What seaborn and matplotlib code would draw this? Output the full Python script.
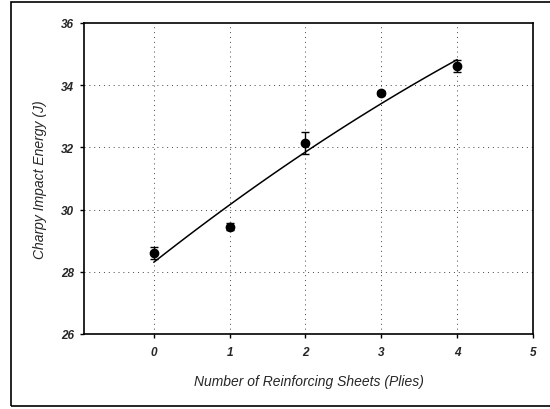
import matplotlib
matplotlib.use("Agg")
import matplotlib.pyplot as plt
import seaborn as sns
import pandas as pd
from matplotlib.patches import Rectangle

plies = [0, 1, 2, 3, 4]
energy = [28.61, 29.45, 32.13, 33.74, 34.61]
err = [0.2, 0.12, 0.35, 0.06, 0.2]
xticks = [0, 1, 2, 3, 4, 5]
yticks = [26, 28, 30, 32, 34, 36]

df = pd.DataFrame({"plies": plies, "energy": energy, "err": err})

sns.set_style("white")
plt.rcParams['font.family'] = ['Liberation Sans', 'DejaVu Sans']

fig = plt.figure(figsize=(5.5, 4.1), dpi=100)
ax = fig.add_axes([84/550, 1-335/410, (533-84)/550, (335-24)/410])

# outer frame
fig.patches.append(Rectangle((11/550, 3/410), 1.2, 1-6/410, transform=fig.transFigure,
                             fill=False, edgecolor='black', linewidth=1.2))

# quadratic trendline
sns.regplot(data=df, x="plies", y="energy", order=2, ci=None, scatter=False,
            ax=ax, line_kws=dict(color='black', linewidth=1.1))
ax.errorbar(df["plies"], df["energy"], yerr=df["err"], fmt='o', color='black',
            markersize=6, capsize=3, elinewidth=1, capthick=1, zorder=5)

ax.set_xlim(-0.92, 5)
ax.set_ylim(26, 36)
ax.set_xticks(xticks)
ax.set_yticks(yticks)
ax.set_xticklabels([str(v) for v in xticks], fontsize=8.5, fontweight='bold', fontstyle='italic')
ax.set_yticklabels([str(v) for v in yticks], fontsize=8.5, fontweight='bold', fontstyle='italic')
ax.tick_params(axis='both', direction='out', length=3, width=1, color='black', pad=4)
ax.tick_params(axis='x', pad=6)
ax.tick_params(axis='y', which='both', left=True)
ax.tick_params(axis='x', which='both', bottom=True)

for v in [0, 1, 2, 3, 4]:
    ax.axvline(v, color='#444444', linestyle=(0, (1, 4)), linewidth=0.7, zorder=0)
for v in [28, 30, 32, 34]:
    ax.axhline(v, color='#444444', linestyle=(0, (1, 4)), linewidth=0.7, zorder=0)

for s in ax.spines.values():
    s.set_color('black')
    s.set_linewidth(1.2)

ax.set_xlabel("Number of Reinforcing Sheets (Plies)", fontsize=10, fontstyle='italic', labelpad=11)
ax.set_ylabel("Charpy Impact Energy (J)", fontsize=10, fontstyle='italic', labelpad=10)

fig.savefig("out.png", dpi=100)
